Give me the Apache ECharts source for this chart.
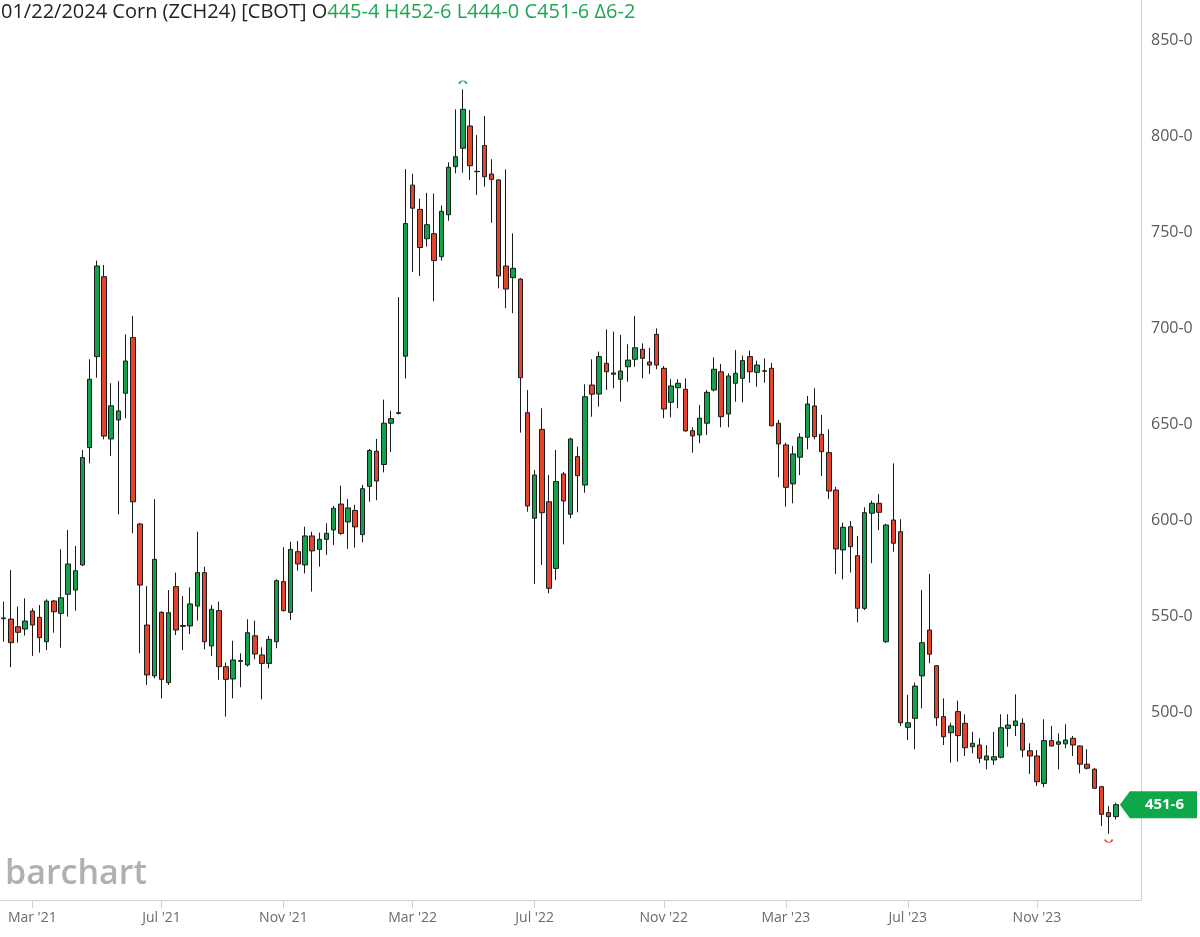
<!DOCTYPE html>
<html>
<head>
<meta charset="utf-8">
<script src="https://cdn.jsdelivr.net/npm/echarts@6/dist/echarts.min.js"></script>
<style>
html,body{margin:0;padding:0;background:#fff;}
#chart{width:1200px;height:937px;}
</style>
</head>
<body>
<div id="chart"></div>
<script>
// ---- data (weekly bars, Corn ZCH24) ----
const firstWeek = '2021-02-01';
const blankWeeksAfter = 3;
const opens = [548.6,548.4,544.4,543.2,552.6,549.3,536.6,557.8,551.4,561.3,563.5,576.6,637.7,685.1,726.7,642.2,
652.1,666,695,597.9,545.3,518.8,551.9,515.3,565.3,544.6,544.8,555.2,572.6,534.4,552.8,523.6,
517.2,526.4,524.5,539.7,529.7,525.3,536.6,567.9,551.9,583.5,576.6,591.7,584.7,589.9,594.8,608.3,
599,605,592.4,617.5,635.8,628.9,650.4,655.5,685.3,774.4,761.8,746.5,749.1,737.1,759,784,
793.6,805.2,781.6,795,780.2,777.1,732.3,726.2,725.5,655.9,600.9,647.2,609.5,574.8,624,603,
633,618.2,670.3,665.6,681.6,675.9,673.3,679.8,683.7,688.9,682.3,696.7,679,661.3,668.9,668.1,
646.5,644.3,650.4,667.7,677.2,655.2,671.2,673.8,685.1,676.9,677.7,679,650.4,639.1,618.8,632.7,
643.1,659.4,644.6,635.1,615.6,584.4,596.5,581.4,554,603.5,608.7,536.6,600,593.9,492,496.7,
518.8,542.7,524.1,497.6,489.2,500.2,494.1,481.9,482.8,475,475,476.4,491.5,492.9,494.1,479.8,
477.1,462.8,485.1,483.2,483.4,486.3,482.3,472.8,470.2,461.1,447.6,445.5];
const highs = [557.5,574,554.9,559.2,554,555.7,558.7,558.3,584.7,594.8,586.5,636.5,683.7,735.1,732.8,671.2,
672.4,696.7,706.3,598.5,565.6,610.8,552.5,563.5,572.6,560.4,564.9,593.9,575.7,555.7,557.5,525.7,
537.1,530.6,548.3,547.6,533.7,539.6,569.1,585.8,588.7,589.1,596.5,593.9,593.4,598.3,607.3,617.9,
610.9,607.9,618.3,637,642.2,662.7,656.8,716.1,782.7,780.3,767.4,770.4,770,763.8,786.3,813.9,
824.3,813.5,800.5,810.4,787.9,777.5,782.6,749.3,726,667.7,626,658.2,623.4,636.5,625,642.8,
638.2,670.7,683.7,687.7,699.3,698.1,696.4,691.5,706.3,692,689.7,699.8,680.2,673.3,673.4,673.8,
648.3,659.9,667.7,684.7,681.3,676.4,688.5,685.6,688.2,683,684.2,681.9,652.1,640.3,638.5,645.2,
664.6,668.6,654.7,647.2,617.3,598.6,599.5,591.7,606.6,610.1,613.5,598,629.5,600.4,508.9,515.3,
563.5,571.9,524.5,507.1,494.4,505.9,498.8,489.7,486.3,482.8,489.7,498.8,498.8,509.2,496.7,483.7,
480.2,496.2,492.7,488.9,493.6,487.5,482.6,480.6,470.8,461.5,451,452.75];
const lows = [536.6,523.3,536.1,539.8,529.2,530.9,532.3,541.3,533.5,549.7,552.8,576,629.5,674.1,642,633.3,
603,653,593.1,530.6,514.1,517.5,507.1,514.1,540.1,532.3,540.6,547.6,532.6,529.2,516.7,497.6,
507.1,512.9,523.7,527.4,506.6,522.7,533.2,552.3,547.9,573.6,572.2,562.7,575.7,581.8,587,592.3,
585,585.6,588.4,609.5,610.3,624.8,635.4,655,673.7,729.1,727.1,742.4,714,735.1,755.8,780.6,
780.9,777.1,769.3,773.6,754.8,720.7,710.3,707.7,645.5,604.3,566.7,576.6,561.8,568.7,587.3,600.9,
604,614.2,653.8,659,667.7,668.6,661.6,672,679.8,673.8,676,678.5,653,653.5,658.2,646,
635.1,640,644.3,667,648.3,648.3,661.6,661.3,671.5,669.4,671.5,648.8,622.2,606.9,608.7,623.4,
636.8,642,622.9,610.9,571.9,569.1,572.6,546.7,553.1,577.5,594.8,536,583.5,492.7,485.4,480.6,
501.9,525.4,492.7,482.8,473.6,474.1,477.1,478.5,473.3,470.1,472.4,475.8,481.9,487.5,476.4,467.7,
461.5,460.8,482,470.1,481.1,477.1,468.1,470,460,440.6,436.5,444];
const closes = [549,536.1,541.5,547.4,545.3,538.7,557.8,552.2,559.5,577.1,573.6,632.5,673.3,732.3,643.7,659.5,
656.8,682.8,609.5,566.1,519.3,579.5,517,551.7,542.7,545,556.3,572.6,536.6,553.5,523.6,517,
527.1,526.8,541.3,530.2,525.3,537.8,568.4,552.8,584.7,577.1,591.7,583.9,589.9,593.1,606.1,593,
606.3,596.4,616.3,636.2,620.3,650.4,652.8,655.9,754.4,762.4,741.9,753.8,735.1,760.8,783.7,789.2,
813.9,784.5,781.4,778.8,777.4,727.1,720.3,731.1,674.1,607.3,623.4,603.8,564.4,620,609.9,642.2,
623.1,664.2,665.5,685.1,677.2,676.6,677.6,683.3,689.7,684.2,680.7,680.7,657.8,669.8,671.2,646.4,
643.8,653,666.5,678.5,653.8,675,676.4,683,677.2,680.7,677.5,649.1,639.6,617,634.4,643.1,
660.4,643.4,635.6,615.1,584.9,596.2,586.1,554,603.8,608.7,604,597.4,587.9,494.4,494.4,513.5,
536.1,530.1,497,487.1,492.7,487.7,481.4,483.7,475.9,477.1,476.7,491.8,493.2,495.3,480.2,477.1,
463.7,485.1,482.3,484.5,485.4,482.8,472.8,470.7,460.3,446.7,445.5,451.75];

const tickDates  = ['2021-03-01','2021-07-05','2021-11-01','2022-03-07','2022-07-04','2022-11-07','2023-03-06','2023-07-03','2023-11-06'];
const tickLabels = ["Mar '21","Jul '21","Nov '21","Mar '22","Jul '22","Nov '22","Mar '23","Jul '23","Nov '23"];

const headerDate = '01/22/2024';
const headerName = 'Corn (ZCH24) [CBOT]';
const lastQuote = {O:'445-4', H:'452-6', L:'444-0', C:'451-6', D:'6-2'};
const lastPriceLabel = '451-6';

// ---- build ----
const green = '#13a24b', red = '#e2452c', greenText = '#1fa653';
const dates = [];
const start = new Date(firstWeek + 'T00:00:00Z');
for (let i = 0; i < opens.length + blankWeeksAfter; i++) {
  const d = new Date(start.getTime() + i * 7 * 86400000);
  dates.push(d.toISOString().slice(0, 10));
}
const ohlc = dates.map((d, i) => i < opens.length ? [opens[i], closes[i], lows[i], highs[i]] : '-');

function fmtPrice(v) {
  const whole = Math.floor(v + 1e-9);
  const eighths = Math.round((v - whole) * 8);
  return whole + '-' + eighths;
}

const chart = echarts.init(document.getElementById('chart'), null, {renderer: 'canvas'});
const isTick = (idx, val) => tickDates.indexOf(val) >= 0;

const option = {
  animation: false,
  backgroundColor: '#ffffff',
  textStyle: {fontFamily: 'Open Sans'},
  grid: {left: -1, right: 59, top: 0, bottom: 37, containLabel: false},
  xAxis: {
    type: 'category',
    data: dates,
    boundaryGap: true,
    axisLine: {show: true, lineStyle: {color: '#d0d0d0', width: 1}},
    axisTick: {show: true, alignWithLabel: true, interval: isTick, length: 8, lineStyle: {color: '#d0d0d0'}},
    axisLabel: {
      interval: isTick,
      formatter: v => { const k = tickDates.indexOf(v); return k >= 0 ? tickLabels[k] : ''; },
      color: '#6b6b6b', fontSize: 14, fontFamily: 'Open Sans', margin: 11
    },
    splitLine: {show: false}
  },
  yAxis: {
    type: 'value',
    position: 'right',
    min: 402.08, max: 870.83,
    splitNumber: 9,
    scale: true,
    axisLine: {show: true, lineStyle: {color: '#d0d0d0', width: 1}},
    axisTick: {show: false},
    splitLine: {show: false},
    axisLabel: {
      showMinLabel: false, showMaxLabel: false,
      formatter: v => fmtPrice(v),
      color: '#5a5a5a', fontSize: 16, fontFamily: 'Open Sans', margin: 10
    }
  },
  series: [{
    type: 'candlestick',
    data: ohlc,
    barWidth: 5,
    itemStyle: {
      color: green, color0: red,
      borderColor: '#1b1b1b', borderColor0: '#1b1b1b',
      borderWidth: 1
    },
    markPoint: {
      silent: true,
      label: {show: false},
      data: [
        {type: 'max', valueDim: 'highest', symbol: 'path://M0,6 A6,6 0 0 1 12,6', symbolSize: [7, 3],
         symbolOffset: [0, -7], itemStyle: {color: 'rgba(0,0,0,0)', borderColor: greenText, borderWidth: 1.3}},
        {type: 'min', valueDim: 'lowest', symbol: 'path://M0,0 A6,6 0 0 0 12,0', symbolSize: [7, 3],
         symbolOffset: [0, 7], itemStyle: {color: 'rgba(0,0,0,0)', borderColor: red, borderWidth: 1.3}}
      ]
    }
  }]
};
chart.setOption(option);

// overlay texts and the last-price tag, positioned through the chart's own scales
(function () {
  const headFont = '20px "Open Sans"';
  const ctx = document.createElement('canvas').getContext('2d');
  ctx.font = headFont;
  const headLeft = headerDate + ' ' + headerName + ' O';
  const w = ctx.measureText(headLeft).width;
  const lastIdx = opens.length - 1;
  const yPix = chart.convertToPixel({yAxisIndex: 0}, closes[lastIdx]);
  const xPix = chart.convertToPixel({xAxisIndex: 0}, dates[lastIdx]);
  const tipX = xPix + 4, h = 13.5, rightX = 1197;
  chart.setOption({graphic: [
    {id: 'head1', type: 'text', x: 1, y: 2, z: 100,
     style: {text: headLeft, fill: '#222222', font: headFont, textVerticalAlign: 'top'}},
    {id: 'head2', type: 'text', x: 1 + w, y: 2, z: 100,
     style: {text: lastQuote.O + ' H' + lastQuote.H + ' L' + lastQuote.L + ' C' + lastQuote.C + ' \u0394' + lastQuote.D,
             fill: greenText, font: headFont, textVerticalAlign: 'top'}},
    {id: 'logo', type: 'text', x: 5, y: 857, z: 100,
     style: {text: 'barchart', fill: '#b0b0b0', font: '600 34px "Open Sans"', textVerticalAlign: 'top'}},
    {id: 'tag', type: 'polygon', z: 110,
     shape: {points: [[tipX, yPix], [tipX + 10, yPix - h], [rightX, yPix - h], [rightX, yPix + h], [tipX + 10, yPix + h]]},
     style: {fill: '#0ea84a'}},
    {id: 'tagText', type: 'text', z: 111, x: (tipX + 10 + rightX) / 2 + 1, y: yPix + 0.5,
     style: {text: lastPriceLabel, fill: '#ffffff', font: 'bold 15px "Open Sans"', textAlign: 'center', textVerticalAlign: 'middle'}}
  ]});
})();
</script>
</body>
</html>
